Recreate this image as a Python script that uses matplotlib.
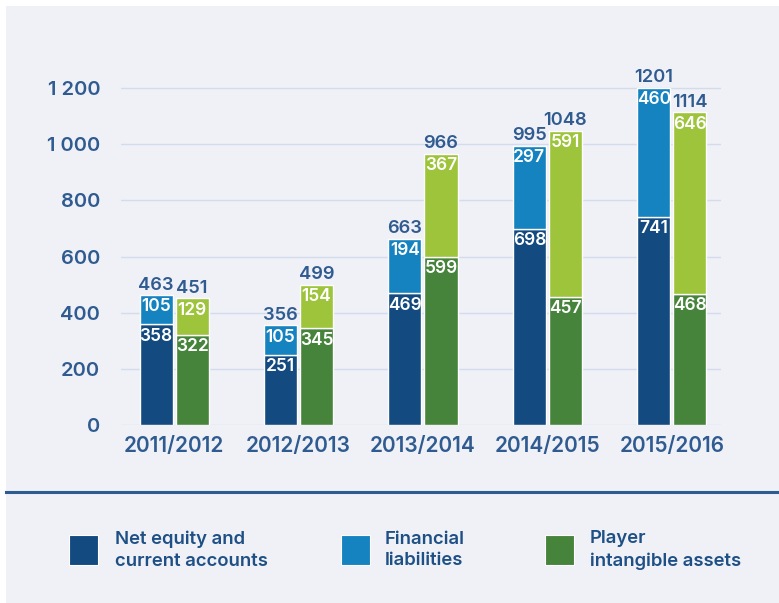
import numpy as np
import matplotlib
matplotlib.use("Agg")
import matplotlib.pyplot as plt
from matplotlib.patches import Rectangle
from matplotlib.lines import Line2D

seasons = ["2011/2012", "2012/2013", "2013/2014", "2014/2015", "2015/2016"]
net_equity = [358, 251, 469, 698, 741]
fin_liab = [105, 105, 194, 297, 460]
liab_totals = [463, 356, 663, 995, 1201]
player_assets_low = [322, 345, 599, 457, 468]
player_assets_high = [129, 154, 367, 591, 646]
asset_totals = [451, 499, 966, 1048, 1114]
yticks = [0, 200, 400, 600, 800, 1000, 1200]
ytick_labels = ["0", "200", "400", "600", "800", "1 000", "1 200"]
legend_labels = ["Net equity and\ncurrent accounts", "Financial\nliabilities",
                 "Player\nintangible assets"]

# colours
dark_blue = "#134a7f"
mid_blue = "#1683c1"
dark_green = "#46843b"
light_green = "#9dc43b"
txt = "#305b90"
bg = "#eff1f7"

plt.rcParams['font.family'] = ['Inter', 'DejaVu Sans']
wt = "semibold"

W, H = 779, 603
fig = plt.figure(figsize=(W / 100, H / 100), dpi=100)
fig.patch.set_facecolor("white")

# background panel
fig.add_artist(Rectangle((6 / W, 0), 1, 1 - 6 / H, transform=fig.transFigure,
                         facecolor=bg, edgecolor="none", zorder=-10))

ax = fig.add_axes([121 / W, (H - 425) / H, 600 / W, 1250 * 0.2808 / H])
ax.set_facecolor("none")

x = np.arange(len(seasons))
bw = 0.266
off = 0.145

ax.bar(x - off, net_equity, bw, color=dark_blue, edgecolor="white", linewidth=1, zorder=3)
ax.bar(x - off, fin_liab, bw, bottom=net_equity, color=mid_blue, edgecolor="white",
       linewidth=1, zorder=3)
ax.bar(x + off, player_assets_low, bw, color=dark_green, edgecolor="white", linewidth=1, zorder=3)
ax.bar(x + off, player_assets_high, bw, bottom=player_assets_low, color=light_green,
       edgecolor="white", linewidth=1, zorder=3)

lab = dict(ha="center", va="top", color="white", fontsize=12.5, fontweight=wt,
           textcoords="offset points", xytext=(0, -2.5), zorder=5)
tot = dict(ha="center", va="bottom", color=txt, fontsize=13.2, fontweight=wt,
           textcoords="offset points", xytext=(0, 1), zorder=5)
for i in range(len(seasons)):
    ax.annotate(str(net_equity[i]), (x[i] - off, net_equity[i]), **lab)
    ax.annotate(str(fin_liab[i]), (x[i] - off, net_equity[i] + fin_liab[i]), **lab)
    ax.annotate(str(player_assets_low[i]), (x[i] + off, player_assets_low[i]), **lab)
    ax.annotate(str(player_assets_high[i]),
                (x[i] + off, player_assets_low[i] + player_assets_high[i]), **lab)
    ax.annotate(str(liab_totals[i]), (x[i] - off, liab_totals[i]), **tot)
    ax.annotate(str(asset_totals[i]), (x[i] + off, asset_totals[i]), **tot)

ax.set_xlim(-0.427, 4.395)
ax.set_ylim(0, 1250)
ax.set_yticks(yticks)
ax.set_yticklabels(ytick_labels)
ax.set_xticks(x)
ax.set_xticklabels(seasons)
ax.tick_params(axis="y", length=0, pad=15, labelsize=14.5, labelcolor=txt)
ax.tick_params(axis="x", length=0, pad=8, labelsize=15, labelcolor=txt)
for t in ax.get_xticklabels() + ax.get_yticklabels():
    t.set_fontweight(wt)
ax.grid(axis="y", color="#d3dcea", linewidth=1, zorder=0)
for s in ax.spines.values():
    s.set_visible(False)

# separator line
fig.add_artist(Line2D([6 / W, 1], [1 - 492 / H] * 2, transform=fig.transFigure,
                      color="#2e5b92", linewidth=2.2))

# legend
items = [(69, 115, dark_blue), (341, 385, mid_blue), (545, 590, dark_green)]
for (sx, tx, c), label in zip(items, legend_labels):
    fig.add_artist(Rectangle((sx / W, 1 - 565 / H), 29 / W, 30 / H, transform=fig.transFigure,
                             facecolor=c, edgecolor="white", linewidth=0.8))
    fig.text(tx / W, 1 - 550 / H, label, ha="left", va="center", color="#1e4f85",
             fontsize=13.3, fontweight=wt, linespacing=1.35)

fig.savefig("out.png", dpi=100, facecolor=fig.get_facecolor())
